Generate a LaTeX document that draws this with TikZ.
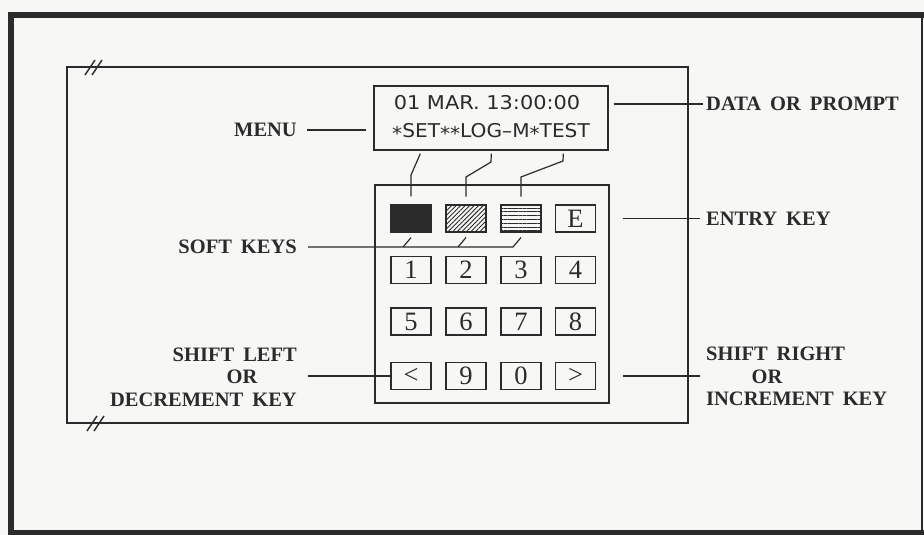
\documentclass[tikz,border=0pt]{standalone}
\usepackage{fontspec}
\setmainfont{Liberation Serif}
\newfontfamily\dispfont{DejaVu Sans}
\usetikzlibrary{patterns.meta}
\definecolor{ink}{HTML}{2B2B2B}
\definecolor{paper}{HTML}{F7F7F5}
\newcommand\widewordspace{\spaceskip=9pt\relax}
\tikzset{
  lbl/.style={font=\bfseries\fontsize{20.5}{22}\selectfont, execute at begin node=\widewordspace, text=ink, inner sep=0pt},
  keybox/.style={draw=ink, line width=1.4pt, minimum width=40pt, minimum height=27pt,
                 inner sep=0pt, font=\fontsize{26.5}{26.5}\selectfont, text=ink},
  conn/.style={draw=ink, line width=1.2pt},
  breakmark/.style={draw=ink, line width=1.5pt},
  frameline/.style={draw=ink, line width=1.4pt},
  disptext/.style={font=\dispfont\fontsize{19}{20}\selectfont, text=ink, inner sep=0pt},
}
\begin{document}
\begin{tikzpicture}[x=1pt,y=-1pt]
\fill[paper] (0,0) rectangle (924,535);
\useasboundingbox (0,0) rectangle (924,535);

% outer heavy frame
\draw[ink, line width=6pt] (11,538) -- (11,15) -- (926,15);
\draw[ink, line width=5pt] (8,532.5) -- (926,532.5);
\draw[ink, line width=1.5pt] (922,15) -- (922,535);

% inner bracket with break marks
\draw[frameline] (67,67) rectangle (688,423);
\draw[breakmark] (85,75) -- (95,60) (92,75) -- (102,60);
\draw[breakmark] (87,431) -- (97,416) (94,431) -- (104,416);

% display
\node[frameline, draw, minimum width=234pt, minimum height=64pt, inner sep=0pt] (disp) at (491,118) {};
\node[disptext] (d1) at (487,103) {\scalebox{1.1}[1]{01 MAR. 13:00:00}};
\node[disptext] (d2) at (491,132) {\scalebox{1.06}[1]{\raisebox{-0.3ex}{*}SET\raisebox{-0.3ex}{*}\raisebox{-0.3ex}{*}LOG–M\raisebox{-0.3ex}{*}TEST}};

% keypad frame
\node[frameline, draw, minimum width=234pt, minimum height=218pt, inner sep=0pt] (pad) at (492,294) {};

% soft keys and entry key
\node[keybox, fill=ink] (s1) at (411,218.5) {};
\node[keybox, pattern={Lines[angle=45,distance=3.2pt,line width=0.9pt]}, pattern color=ink] (s2) at (466,218.5) {};
\node[keybox, pattern={Lines[angle=0,distance=3.8pt,line width=1pt]}, pattern color=ink] (s3) at (521,218.5) {};
\node[keybox] (kE) at (575.5,218.5) {E};

% number keys
\node[keybox] (k1) at (411,270) {1};
\node[keybox] (k2) at (466,270) {2};
\node[keybox] (k3) at (521,270) {3};
\node[keybox] (k4) at (575.5,270) {4};
\node[keybox] (k5) at (411,321.5) {5};
\node[keybox] (k6) at (466,321.5) {6};
\node[keybox] (k7) at (521,321.5) {7};
\node[keybox] (k8) at (575.5,321.5) {8};
\node[keybox] (klt) at (411,376) {<};
\node[keybox] (k9) at (466,376) {9};
\node[keybox] (k0) at (521,376) {0};
\node[keybox] (kgt) at (575.5,376) {>};

% labels
\node[lbl, anchor=west] (dp) at (706,104) {DATA OR PROMPT};
\node[lbl, anchor=west] (ek) at (706,219) {ENTRY KEY};
\node[lbl, anchor=west] (sr1) at (706,354) {SHIFT RIGHT};
\node[lbl] (sr2) at (767,377) {OR};
\node[lbl, anchor=west] (sr3) at (706,399) {INCREMENT KEY};
\node[lbl, anchor=east] (menu) at (297,130) {MENU};
\node[lbl, anchor=east] (sk) at (297,247) {SOFT KEYS};
\node[lbl, anchor=east] (sl1) at (297,355) {SHIFT LEFT};
\node[lbl] (sl2) at (242,377) {OR};
\node[lbl, anchor=east] (sl3) at (297,400) {DECREMENT KEY};

% connectors
\draw[conn] ([xshift=10pt]menu.east) -- ([xshift=-7pt]menu.east -| disp.west);
\draw[conn] ([xshift=5pt]dp.west -| disp.east) -- ([xshift=-3pt]dp.west);
\draw[conn] ([xshift=27pt]kE.east) -- ([xshift=-6pt]kE.east -| ek.west);
\draw[conn] ([xshift=27pt]kgt.east) -- ([xshift=-6pt]kgt.east -| sr1.west);
\draw[conn] ([xshift=11pt]sl1.east |- klt.west) -- (klt.west);

% soft key leaders from display
\draw[conn] ([xshift=47pt,yshift=-3pt]disp.south west) -- (411,175) -- ([yshift=8pt]s1.north);
\draw[conn] ([xshift=118pt,yshift=-3pt]disp.south west) -- (491,162) -- (466,177) -- ([yshift=8pt]s2.north);
\draw[conn] ([xshift=190pt,yshift=-3pt]disp.south west) -- (563,161) -- (521,177) -- ([yshift=8pt]s3.north);

% soft keys label leader
\coordinate (skj) at (513,247);
\draw[conn] ([xshift=11pt]sk.east) -- (skj) -- ([yshift=-5pt]s3.south);
\draw[conn] (403,247) -- ([yshift=-5pt]s1.south);
\draw[conn] (458,247) -- ([yshift=-5pt]s2.south);
\end{tikzpicture}
\end{document}
